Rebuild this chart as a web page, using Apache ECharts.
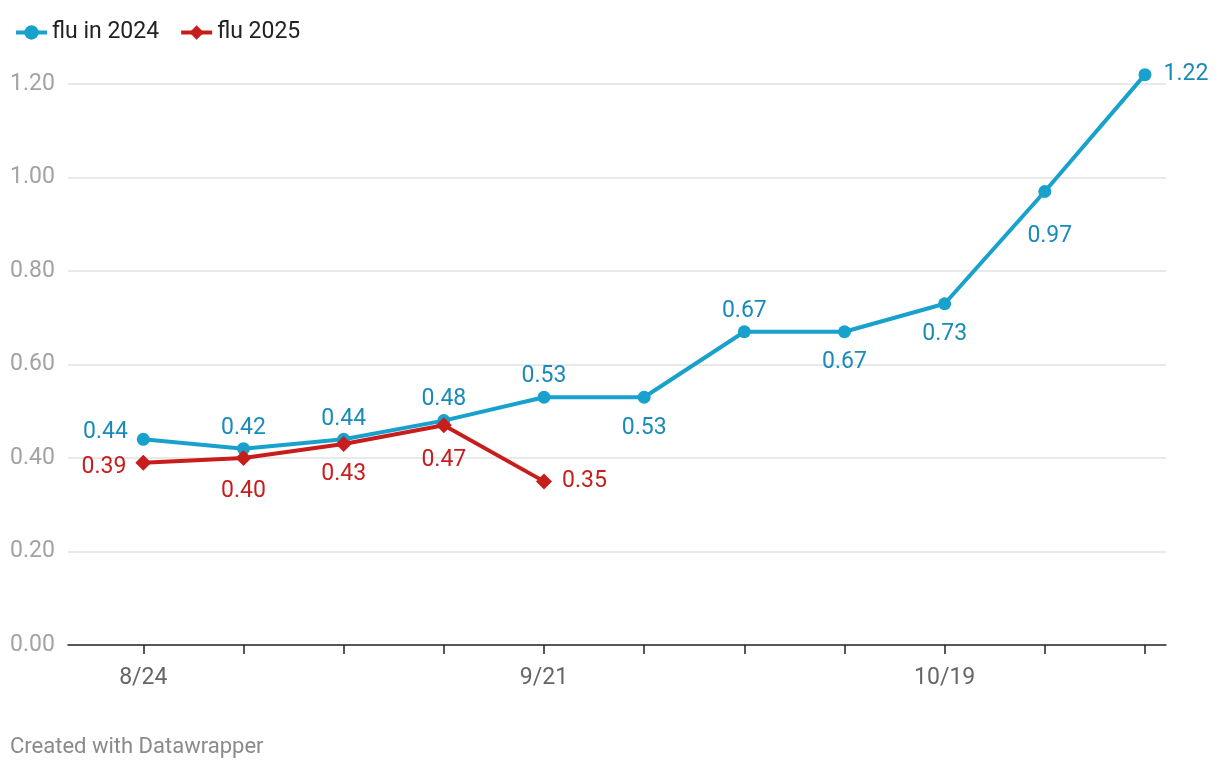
<!DOCTYPE html>
<html>
<head>
<meta charset="utf-8">
<script src="https://cdn.jsdelivr.net/npm/echarts@6/dist/echarts.min.js"></script>
<style>
html,body{margin:0;padding:0;background:#fff;}
#chart{width:1220px;height:772px;}
</style>
</head>
<body>
<div id="chart"></div>
<script>
const categories = ['8/24','8/31','9/7','9/14','9/21','9/28','10/5','10/12','10/19','10/26','11/2'];
const flu2024 = [0.44,0.42,0.44,0.48,0.53,0.53,0.67,0.67,0.73,0.97,1.22];
const flu2025 = [0.39,0.40,0.43,0.47,0.35];
const xLabelCats = ['8/24','9/21','10/19'];
const pos2024 = ['left','top','top','top','top','bottom','top','bottom','bottom','bottom','right'];
const pos2025 = ['left','bottom','bottom','bottom','right'];
// label placement tweaks (distance, [dx,dy])
const lab2024 = [[9,[0,-7]],[2,[0,0]],[2,[0,0]],[3,[0,0]],[3,[0,0]],[13,[0,0]],[3,[0,0]],[12,[0,0]],[13,[0,0]],[27,[5,0]],[12,[0,0]]];
const lab2025 = [[9,[0,5]],[14,[0,0]],[11,[0,0]],[15,[0,0]],[10,[0,0]]];

const FONT = 'Roboto';
const BLUE = '#18a1cd', BLUE_TXT = '#1a8bb9';
const RED = '#c71e1d', RED_TXT = '#c71e1d';

function mkData(vals, poss, labs, txtColor){
  return vals.map((v,i)=>({
    value:[i,v],
    label:{show:true,position:poss[i],distance:labs[i][0],offset:labs[i][1],color:txtColor,fontSize:23,fontFamily:FONT,
      formatter:p=>p.value[1].toFixed(2)}
  }));
}

const chart = echarts.init(document.getElementById('chart'), null, {renderer:'canvas'});
chart.setOption({
  animation:false,
  textStyle:{fontFamily:FONT},
  grid:{left:68,right:54,top:84,bottom:127,containLabel:false},
  legend:{
    left:9, top:16, itemWidth:31, itemHeight:18, itemGap:20,
    lineStyle:{width:4},
    textStyle:{fontSize:23,color:'#222',fontFamily:FONT},
    data:['flu in 2024','flu 2025']
  },
  graphic:[{type:'text',left:10,top:736,style:{text:'Created with Datawrapper',fill:'#8a8a8a',fontSize:22,fontFamily:FONT}}],
  xAxis:{
    type:'value', min:-0.752, max:10.21,
    axisLine:{show:true,onZero:false,lineStyle:{color:'#222',width:1.5}},
    axisTick:{show:true,length:9,lineStyle:{color:'#222',width:1.5},customValues:categories.map((c,i)=>i)},
    axisLabel:{show:true,margin:22,fontSize:23,color:'#666',fontFamily:FONT,
      customValues:xLabelCats.map(c=>categories.indexOf(c)),
      formatter:v=>categories[Math.round(v)]||''},
    splitLine:{show:false}
  },
  yAxis:{
    type:'value', min:0, max:1.2, interval:0.2,
    axisLine:{show:false}, axisTick:{show:false},
    axisLabel:{align:'left',margin:58,fontSize:23,color:'#a3a3a3',fontFamily:FONT,formatter:v=>v.toFixed(2)},
    splitLine:{show:true,lineStyle:{color:'#e2e2e2',width:1.5},showMinLine:false}
  },
  series:[
    {name:'flu in 2024',type:'line',clip:false,symbol:'circle',symbolSize:13,
      lineStyle:{color:BLUE,width:4},itemStyle:{color:BLUE},
      data:mkData(flu2024,pos2024,lab2024,BLUE_TXT),z:3},
    {name:'flu 2025',type:'line',clip:false,symbol:'diamond',symbolSize:16,
      lineStyle:{color:RED,width:4},itemStyle:{color:RED},
      data:mkData(flu2025,pos2025,lab2025,RED_TXT),z:4}
  ]
});
</script>
</body>
</html>
